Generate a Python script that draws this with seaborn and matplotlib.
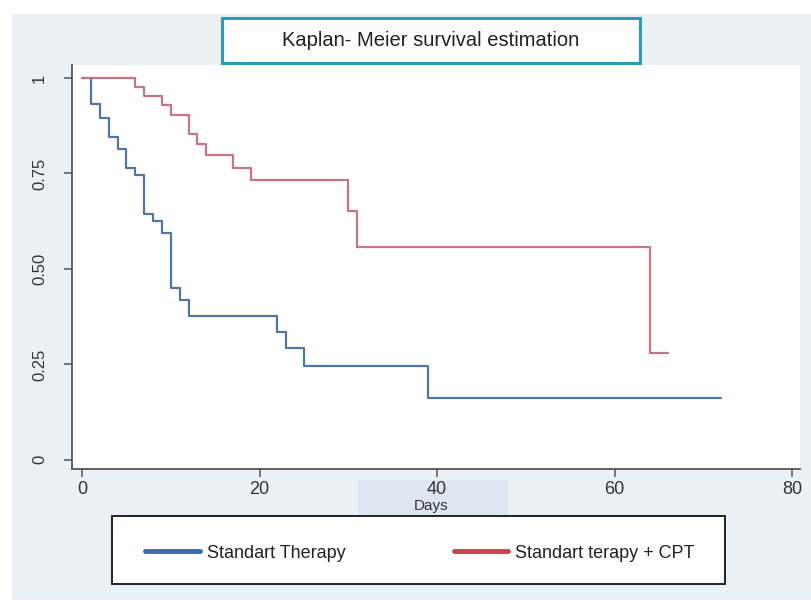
import numpy as np
import pandas as pd
import matplotlib
matplotlib.use("Agg")
import matplotlib.pyplot as plt
import seaborn as sns
from matplotlib.patches import Rectangle
from matplotlib.lines import Line2D

# ---- data ----
std_days = [0, 1, 2, 3, 4, 5, 6, 7, 8, 9, 10, 11, 12, 22, 23, 25, 39, 72]
std_surv = [1.0, 0.932, 0.895, 0.845, 0.813, 0.763, 0.745, 0.644, 0.625, 0.593,
            0.451, 0.419, 0.377, 0.335, 0.293, 0.246, 0.162, 0.162]
cpt_days = [0, 6, 7, 9, 10, 12, 13, 14, 17, 19, 30, 31, 64, 66]
cpt_surv = [1.0, 0.977, 0.954, 0.928, 0.904, 0.852, 0.826, 0.798, 0.765, 0.734,
            0.651, 0.558, 0.279, 0.279]
groups = ["Standart Therapy", "Standart terapy + CPT"]
x_ticks = [0, 20, 40, 60, 80]
y_ticks = [0, 0.25, 0.5, 0.75, 1]
y_ticklabels = ["0", "0.25", "0.50", "0.75", "1"]
title = "Kaplan- Meier survival estimation"
xlabel = "Days"

df = pd.concat([
    pd.DataFrame({"day": std_days, "surv": std_surv, "group": groups[0]}),
    pd.DataFrame({"day": cpt_days, "surv": cpt_surv, "group": groups[1]}),
], ignore_index=True)

sns.set_style("white")
plt.rcParams["font.family"] = ["Liberation Sans", "DejaVu Sans"]

W, H = 812, 604
fig = plt.figure(figsize=(W / 100, H / 100), dpi=100)
fig.patch.set_facecolor("white")

def fx(px):
    return px / W

def fy(py):
    return 1 - py / H

# outer light panel
fig.patches.append(Rectangle((fx(12), fy(600)), fx(812) - fx(12), fy(14) - fy(600),
                             transform=fig.transFigure, facecolor="#eaf0f3",
                             edgecolor="none", zorder=-2))
# highlight behind axis title
fig.patches.append(Rectangle((fx(358), fy(515)), fx(508) - fx(358), fy(480) - fy(515),
                             transform=fig.transFigure, facecolor="#dde6f1",
                             edgecolor="none", zorder=-1))

ax = fig.add_axes([fx(72), fy(469), fx(800) - fx(72), fy(65) - fy(469)])
ax.set_zorder(1)
ax.set_facecolor("white")

line_colors = {groups[0]: "#52769f", groups[1]: "#c67683"}
sns.lineplot(data=df, x="day", y="surv", hue="group", palette=line_colors,
             drawstyle="steps-post", estimator=None, sort=False, lw=1.6,
             legend=False, ax=ax)

ax.set_xlim(-1.13, 80.9)
ax.set_ylim(-0.024, 1.034)
ax.set_xticks(x_ticks)
ax.set_xticklabels([str(v) for v in x_ticks], fontsize=13, color="#333333")
ax.set_yticks(y_ticks)
ax.set_yticklabels(y_ticklabels, fontsize=12, color="#333333", rotation=90,
                   va="center")
ax.tick_params(axis="both", direction="out", length=6, width=1.1, color="#555555",
               bottom=True, left=True)
ax.tick_params(axis="x", pad=3)
ax.tick_params(axis="y", pad=12)
for s in ["top", "right"]:
    ax.spines[s].set_visible(False)
for s in ["left", "bottom"]:
    ax.spines[s].set_color("#555555")
    ax.spines[s].set_linewidth(1.3)
ax.set_ylabel("")
ax.set_xlabel("")
fig.text(fx(431), fy(506), xlabel, ha="center", va="center", fontsize=11,
         color="#333333", zorder=3)

# title box
fig.patches.append(Rectangle((fx(222), fy(63)), fx(640) - fx(222), fy(18) - fy(63),
                             transform=fig.transFigure, facecolor="white",
                             edgecolor="#2a9db3", lw=2.2, zorder=2))
fig.text(fx(431), fy(41), title, ha="center", va="center", fontsize=14.5,
         color="#222222", zorder=3)

# legend box (frame drawn as a figure rectangle) and legend entries
fig.patches.append(Rectangle((fx(112), fy(584)), fx(725) - fx(112), fy(516) - fy(584),
                             transform=fig.transFigure, facecolor="white",
                             edgecolor="#222222", lw=1.4, zorder=2))
handles = [Line2D([], [], color="#3b6cb2", lw=3.5),
           Line2D([], [], color="#c9454e", lw=3.5)]
leg = fig.legend(handles, groups, loc="center", ncol=2,
                 bbox_to_anchor=(fx(420), fy(553)),
                 frameon=False, fontsize=13, handlelength=3.0,
                 handletextpad=0.4, columnspacing=6.0, borderpad=0.0,
                 borderaxespad=0.0)
leg.set_zorder(4)
for t in leg.get_texts():
    t.set_color("#222222")

fig.savefig("out.png", dpi=100)
